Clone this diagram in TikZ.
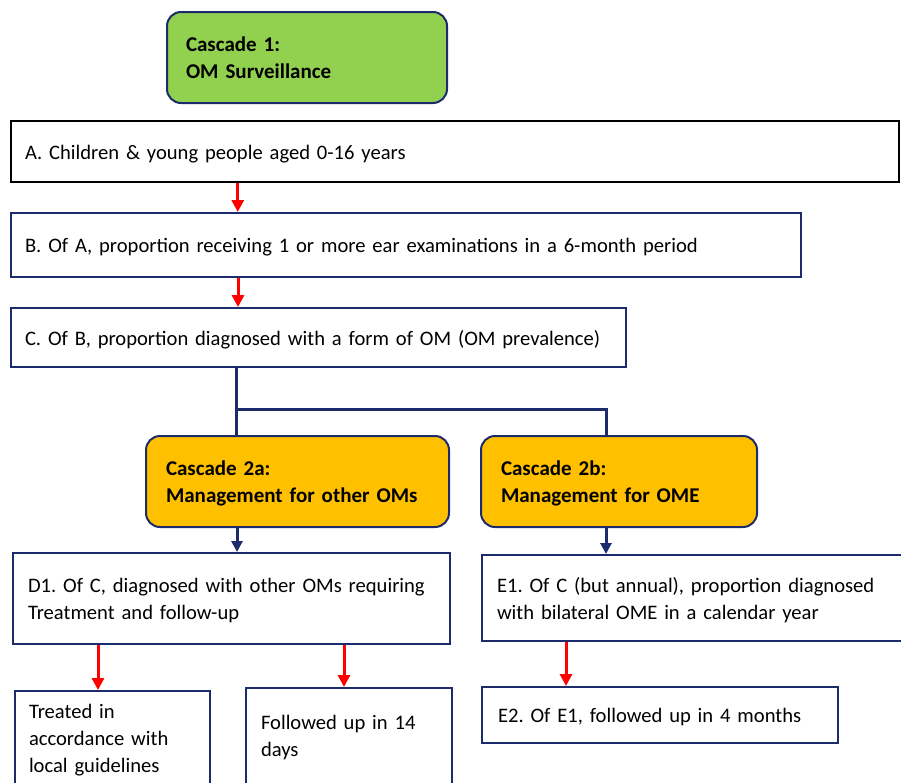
\documentclass[tikz,border=0pt]{standalone}
\usepackage{fontspec}
\setmainfont{Carlito}
\usetikzlibrary{arrows.meta}
\definecolor{navy}{HTML}{1C2B6B}
\definecolor{cgreen}{HTML}{92D050}
\definecolor{corange}{HTML}{FFC000}
\definecolor{cred}{HTML}{FF0000}
\newcommand\tstrut{\rule[-6pt]{0pt}{27pt}}
\newcommand\tailrule{\rule[-40pt]{0pt}{0pt}}
\newcommand\oneline[1]{\mbox{#1}}
\frenchspacing
\begin{document}
\begin{tikzpicture}[x=1pt,y=-1pt,
  every node/.style={font=\fontsize{20.6}{27}\selectfont\frenchspacing, align=left, inner ysep=0pt},
  box/.style={draw=navy, line width=2pt, fill=white, rectangle},
  casc/.style={draw=navy, line width=2pt, rounded corners=14pt, font=\fontsize{21}{27}\selectfont\bfseries\frenchspacing},
  redarr/.style={draw=cred, line width=3pt, -{Triangle[width=12pt,length=12pt]}},
  navyarr/.style={draw=navy, line width=3pt, -{Triangle[width=11pt,length=11pt]}},
  tree/.style={draw=navy, line width=3pt}]
\useasboundingbox (0,0) rectangle (901,782);
\clip (0,0) rectangle (901,782);

% Cascade 1
\node[casc, fill=cgreen, minimum width=280, minimum height=91, inner xsep=19, text width=242]
  (G1) at (307,57.5) {\tstrut Cascade 1:\\\oneline{OM Surveillance}\tstrut};

% A, B, C
\node[box, draw=black, line width=2.5pt, minimum width=888, minimum height=61, inner xsep=14, text width=860]
  (A) at (455,151.5) {\tstrut\oneline{A. Children \& young people aged 0-16 years}\tstrut};
\node[box, minimum width=790, minimum height=64, inner xsep=14, text width=762]
  (B) at (406,245) {\tstrut\oneline{B. Of A, proportion receiving 1 or more ear examinations in a 6-month period}\tstrut};
\node[box, minimum width=615, minimum height=59, inner xsep=14, text width=587]
  (C) at (318.5,337.5) {\tstrut\oneline{C. Of B, proportion diagnosed with a form of OM (OM prevalence)}\tstrut};

% Cascade 2a / 2b
\node[casc, fill=corange, minimum width=303, minimum height=91, inner xsep=20, text width=263]
  (C2a) at (297.5,481.5) {\tstrut Cascade 2a:\\\oneline{Management for other OMs}\tstrut};
\node[casc, fill=corange, minimum width=276, minimum height=91, inner xsep=20, text width=236]
  (C2b) at (619,481.5) {\tstrut Cascade 2b:\\\oneline{Management for OME}\tstrut};

% D1, E1
\node[box, minimum width=437, minimum height=91, inner xsep=15, text width=407]
  (D1) at (231.5,598.5) {\tstrut\oneline{D1. Of C, diagnosed with other OMs requiring}\\\oneline{Treatment and follow-up}\tstrut};
\node[box, minimum width=428, minimum height=86, inner xsep=15, text width=398]
  (E1) at (696,598) {\tstrut\oneline{E1. Of C (but annual), proportion diagnosed}\\\oneline{with bilateral OME in a calendar year}\tstrut};

% bottom row
\node[box, anchor=north west, minimum width=195, inner xsep=14, text width=167, inner ysep=6]
  (T) at (14,690) {\tstrut Treated in\\\oneline{accordance with}\\\oneline{local guidelines}\tailrule};
\node[box, anchor=north west, minimum width=206, inner xsep=15, text width=176, inner ysep=20]
  (F) at (245,687) {\tstrut\oneline{Followed up in 14}\\days\tailrule};
\node[box, minimum width=356, minimum height=56, inner xsep=16, text width=324]
  (E2) at (660,715) {\tstrut\oneline{E2. Of E1, followed up in 4 months}\tstrut};

% connectors
\draw[redarr] ([xshift=228]A.south west) -- ([xshift=228]A.south west |- B.north);
\draw[redarr] ([xshift=228]B.south west) -- ([xshift=228]B.south west |- C.north);

\coordinate (split) at (237,409);
\draw[tree] ([xshift=226]C.south west) -- ([xshift=226]C.south west |- C2a.north);
\draw[tree] ([xshift=-1.5]split) -| ([xshift=126]C2b.north west);

\draw[navyarr] ([xshift=92]C2a.south west) -- ([xshift=92]C2a.south west |- D1.north);
\draw[navyarr] ([xshift=126]C2b.south west) -- ([xshift=126]C2b.south west |- E1.north);

\draw[redarr] ([xshift=86]D1.south west) -- ([xshift=86]D1.south west |- T.north);
\draw[redarr] ([xshift=332]D1.south west) -- ([xshift=332]D1.south west |- F.north);
\draw[redarr] ([xshift=85]E1.south west) -- ([xshift=85]E1.south west |- E2.north);
\end{tikzpicture}
\end{document}
